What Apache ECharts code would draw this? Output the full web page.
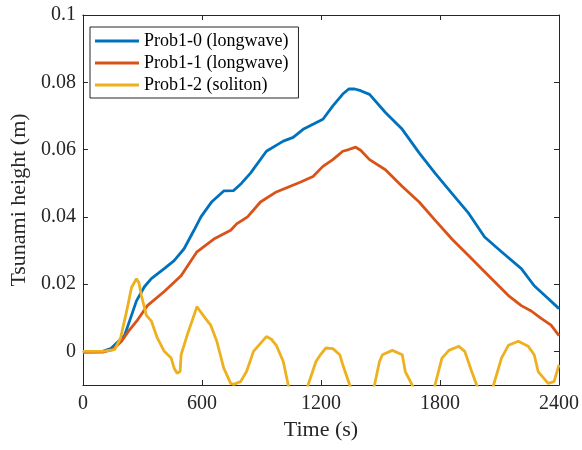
<!DOCTYPE html>
<html>
<head>
<meta charset="utf-8">
<script src="https://cdn.jsdelivr.net/npm/echarts@6/dist/echarts.min.js"></script>
<style>
html,body{margin:0;padding:0;background:#fff;}
#chart{width:582px;height:450px;}
</style>
</head>
<body>
<div id="chart"></div>
<script>
const seriesNames = ['Prob1-0 (longwave)', 'Prob1-1 (longwave)', 'Prob1-2 (soliton)'];
const xTicks = [0, 600, 1200, 1800, 2400];
const yTicks = [0, 0.02, 0.04, 0.06, 0.08, 0.1];

const blueT = [0,100,140,170,210,245,270,310,345,410,460,510,560,595,650,710,760,800,845,925,1010,1060,1110,1160,1210,1260,1310,1340,1370,1400,1445,1525,1610,1695,1775,1860,1945,2025,2110,2210,2275,2345,2400];
const blueY = [0,0,0.0008,0.0025,0.0047,0.0107,0.015,0.0192,0.0216,0.0246,0.027,0.0305,0.036,0.040,0.0445,0.0477,0.0478,0.050,0.053,0.0595,0.0625,0.0636,0.066,0.0675,0.069,0.073,0.0765,0.078,0.078,0.0775,0.0764,0.071,0.066,0.059,0.053,0.047,0.041,0.034,0.0296,0.0246,0.0195,0.0157,0.0127];

const redT = [0,100,150,195,230,270,325,410,495,575,660,745,775,830,895,975,1095,1160,1210,1260,1310,1340,1375,1400,1445,1525,1610,1695,1775,1860,1945,2045,2145,2210,2260,2310,2360,2400];
const redY = [-0.0003,-0.0002,0.0005,0.003,0.006,0.0089,0.0136,0.0178,0.0225,0.0296,0.0334,0.036,0.0379,0.040,0.0444,0.0474,0.0503,0.052,0.055,0.057,0.0595,0.060,0.0607,0.0598,0.057,0.054,0.049,0.0444,0.039,0.0334,0.0284,0.0225,0.0166,0.0136,0.012,0.0098,0.0078,0.0047];

const yellowT = [0,100,160,190,220,245,270,282,295,320,345,375,410,445,460,475,490,495,525,560,575,590,610,645,675,710,745,760,795,825,860,925,950,975,1010,1035,1060,1110,1135,1175,1195,1225,1260,1295,1310,1345,1380,1440,1470,1495,1510,1560,1610,1625,1660,1700,1750,1775,1810,1845,1895,1925,1960,1985,2020,2050,2070,2110,2145,2195,2245,2275,2295,2345,2375,2400];
const yellowY = [0,0,0.0005,0.004,0.0118,0.019,0.0216,0.0205,0.0166,0.0107,0.009,0.004,0,-0.002,-0.005,-0.0065,-0.006,-0.001,0.0047,0.0107,0.0133,0.012,0.0104,0.0077,0.003,-0.005,-0.0095,-0.0098,-0.009,-0.006,0,0.0044,0.0036,0.0018,-0.003,-0.01,-0.015,-0.015,-0.01,-0.003,-0.0012,0.001,0.0008,-0.001,-0.004,-0.01,-0.015,-0.015,-0.01,-0.003,-0.001,0.0003,-0.001,-0.006,-0.01,-0.015,-0.015,-0.01,-0.002,0.0003,0.0015,0,-0.006,-0.01,-0.015,-0.015,-0.01,-0.002,0.0018,0.003,0.0015,-0.001,-0.006,-0.0095,-0.009,-0.004];

const colors = ['#0072BD', '#D95319', '#EDB120'];
const font = '"Liberation Serif", "Times New Roman", serif';
const axisColor = '#262626';

function pairs(t, y) { return t.map((v, i) => [v, y[i]]); }
const datasets = [pairs(blueT, blueY), pairs(redT, redY), pairs(yellowT, yellowY)];

const chart = echarts.init(document.getElementById('chart'), null, {renderer: 'canvas'});

function fmt(v) { return String(+(+v).toFixed(3)); }

function xAx(pos, showLabel) {
  return {
    type: 'value', position: pos, min: 0, max: 2400, interval: 600,
    axisLine: {show: true, onZero: false, lineStyle: {color: axisColor, width: 1}},
    axisTick: {show: true, inside: true, length: 5, lineStyle: {color: axisColor}, customValues: xTicks},
    axisLabel: {show: showLabel, margin: 9, fontSize: 20, color: axisColor, fontFamily: font, customValues: xTicks,
      formatter: fmt},
    splitLine: {show: false},
    name: showLabel ? 'Time (s)' : '', nameLocation: 'middle', nameGap: 34,
    nameTextStyle: {fontSize: 22, color: axisColor, fontFamily: font}
  };
}
function yAx(pos, showLabel) {
  return {
    type: 'value', position: pos, min: -0.01, max: 0.1,
    axisLine: {show: true, onZero: false, lineStyle: {color: axisColor, width: 1}},
    axisTick: {show: true, inside: true, length: 5, lineStyle: {color: axisColor}, customValues: yTicks},
    axisLabel: {show: showLabel, margin: 7, fontSize: 20, color: axisColor, fontFamily: font, customValues: yTicks,
      formatter: fmt},
    splitLine: {show: false},
    name: showLabel ? 'Tsunami height (m)' : '', nameLocation: 'middle', nameGap: 44,
    nameTextStyle: {fontSize: 22, color: axisColor, fontFamily: font}
  };
}

chart.setOption({
  animation: false,
  backgroundColor: '#fff',
  grid: {left: 78, right: 22, top: 15, bottom: 65, containLabel: false},
  xAxis: [xAx('bottom', true), xAx('top', false)],
  yAxis: [yAx('left', true), yAx('right', false)],
  legend: {
    data: seriesNames, orient: 'vertical', left: 90, top: 27,
    icon: 'rect', itemWidth: 44, itemHeight: 3, itemGap: 4,
    padding: [5, 10, 4, 5],
    borderColor: axisColor, borderWidth: 1, backgroundColor: '#fff',
    textStyle: {fontSize: 18, color: '#000', fontFamily: font}
  },
  series: seriesNames.map((n, i) => ({
    name: n, type: 'line', xAxisIndex: 0, yAxisIndex: 0,
    data: datasets[i], showSymbol: false, symbol: 'none', clip: true,
    color: colors[i],
    lineStyle: {width: 2.8, color: colors[i]}
  }))
});
</script>
</body>
</html>
